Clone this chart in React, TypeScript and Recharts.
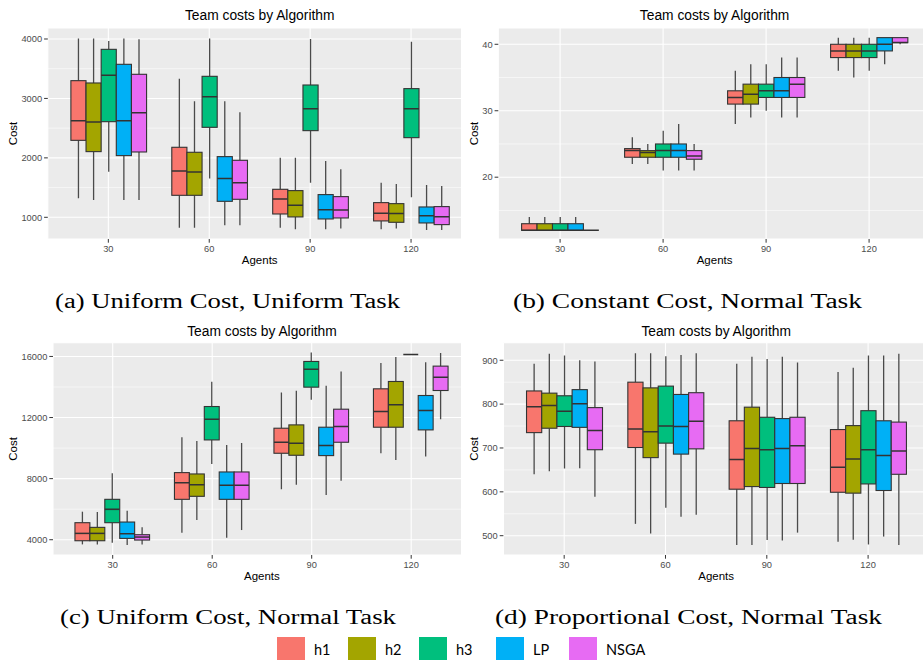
import React from 'react';
import { BarChart, Bar, XAxis, YAxis, CartesianGrid } from 'recharts';

// ---------- data ----------
const agents = ['30', '60', '90', '120'];
const algorithms = ['h1', 'h2', 'h3', 'LP', 'NSGA'];
const colors = ['#F8766D', '#A3A500', '#00BF7D', '#00B0F6', '#E76BF3'];

// five-number summaries [min, q1, median, q3, max] per agents value
// (a) Uniform Cost, Uniform Task
const aH1 = [[1320, 2295, 2626, 3299, 4010], [826, 1370, 1780, 2178, 3333], [826, 1056, 1309, 1471, 2004], [798, 939, 1067, 1247, 1583]];
const aH2 = [[1292, 2105, 2604, 3260, 4010], [826, 1370, 1763, 2094, 2951], [798, 1006, 1202, 1449, 2004], [810, 916, 1062, 1230, 1561]];
const aH3 = [[1768, 2609, 3389, 3826, 3966], [1651, 2514, 3030, 3372, 4010], [1583, 2458, 2828, 3226, 4000], [1337, 2340, 2828, 3165, 3955]];
const aLP = [[1292, 2038, 2626, 3574, 4010], [866, 1269, 1651, 2021, 2951], [798, 972, 1129, 1382, 1948], [787, 905, 1028, 1174, 1544]];
const aNSGA = [[1292, 2099, 2761, 3406, 3994], [866, 1303, 1583, 1959, 2766], [810, 989, 1124, 1348, 1808], [787, 877, 1011, 1180, 1527]];

// (b) Constant Cost, Normal Task
const bH1 = [[12, 12, 12, 13, 14], [22, 23, 24, 24.3, 26], [28, 31, 32, 33, 36], [36, 38, 39, 40, 41]];
const bH2 = [[12, 12, 12, 13, 14], [22, 23, 23.7, 24, 25], [29, 31, 32.5, 34, 37], [35, 38, 39, 40, 41]];
const bH3 = [[12, 12, 12, 13, 14], [21, 23, 24, 25, 27], [30, 32, 33, 34, 37], [36, 38, 39, 40, 41]];
const bLP = [[12, 12, 12, 13, 14], [21, 23, 24, 25, 28], [29, 32, 33, 35, 38], [37, 39, 40, 41, 41]];
const bNSGA = [[12, 12, 12, 12, 12], [21, 22.7, 23.2, 24, 25], [29, 32, 34, 35, 38], [40, 40.25, 40.25, 41, 41]];

// (c) Uniform Cost, Normal Task
const cH1 = [[3694, 3934, 4415, 5115, 5836], [4459, 6645, 7738, 8394, 10710], [7300, 9661, 10382, 11301, 13639], [9661, 11366, 12393, 13880, 15563]];
const cH2 = [[3694, 3934, 4415, 4809, 5814], [5290, 6842, 7607, 8306, 10470], [7607, 9530, 10317, 11519, 13749], [9224, 11366, 12831, 14361, 15956]];
const cH3 = [[3803, 5115, 5989, 6645, 8350], [8962, 10535, 11891, 12721, 14339], [13158, 13989, 15169, 15672, 16262], [16131, 16131, 16131, 16131, 16131]];
const cLP = [[3650, 4087, 4393, 5158, 5902], [4131, 6645, 7563, 8437, 10208], [6929, 9508, 10164, 11366, 14077], [9443, 11191, 12459, 13443, 15628]];
const cNSGA = [[3694, 3978, 4175, 4328, 4809], [4634, 6645, 7563, 8437, 10339], [7869, 10382, 11410, 12546, 15016], [11891, 13770, 14645, 15366, 16219]];

// (d) Proportional Cost, Normal Task
const dH1 = [[640, 735, 794, 830, 892], [527, 701, 743, 850, 916], [479, 606, 674, 762, 892], [486, 599, 656, 742, 873]];
const dH2 = [[647, 745, 797, 825, 915], [505, 678, 737, 837, 916], [479, 612, 699, 793, 908], [491, 597, 675, 751, 883]];
const dH3 = [[653, 749, 784, 819, 911], [564, 711, 750, 841, 909], [490, 610, 696, 770, 903], [480, 618, 696, 785, 911]];
const dLP = [[654, 747, 801, 833, 900], [543, 686, 749, 822, 912], [489, 619, 699, 767, 908], [498, 603, 683, 762, 911]];
const dNSGA = [[589, 696, 740, 792, 897], [548, 698, 761, 826, 916], [507, 619, 705, 770, 895], [479, 640, 693, 759, 915]];

// axis ticks
const aTicks = [1000, 2000, 3000, 4000];
const aMinor = [1500, 2500, 3500];
const bTicks = [20, 30, 40];
const bMinor = [15, 25, 35];
const cTicks = [4000, 8000, 12000, 16000];
const cMinor = [6000, 10000, 14000];
const dTicks = [500, 600, 700, 800, 900];
const dMinor = [550, 650, 750, 850];

const chartTitle = 'Team costs by Algorithm';
const captions = ['(a) Uniform Cost, Uniform Task', '(b) Constant Cost, Normal Task', '(c) Uniform Cost, Normal Task', '(d) Proportional Cost, Normal Task'];

// ---------- helpers ----------
const SANS = '"Liberation Sans", Arial, sans-serif';

function makeRows(series: number[][][]) {
  return agents.map((a, i) => {
    const r: any = { agents: a };
    algorithms.forEach((k, j) => {
      r[k] = series[j][i];
    });
    return r;
  });
}

const BoxShape = (props: any) => {
  const { x, y, width, height, stats, color } = props;
  if (!stats || x == null || y == null) return null;
  const [mn, q1, md, q3, mx] = stats;
  const span = mx - mn;
  const h = height || 0;
  const py = (v: number) => (span === 0 ? y : y + (h * (mx - v)) / span);
  const cx = x + width / 2;
  const top = py(q3);
  const bot = py(q1);
  return (
    <g>
      {mx > q3 && <line x1={cx} x2={cx} y1={py(mx)} y2={top} stroke="#4a4a4a" strokeWidth={1.3} />}
      {q1 > mn && <line x1={cx} x2={cx} y1={bot} y2={py(mn)} stroke="#4a4a4a" strokeWidth={1.3} />}
      <rect x={x} y={top} width={width} height={Math.max(bot - top, 0)} fill={color} stroke="#333333" strokeWidth={1.1} />
      <line x1={x} x2={x + width} y1={py(md)} y2={py(md)} stroke="#333333" strokeWidth={1.5} />
    </g>
  );
};

const YTitle = (props: any) => {
  const vb = props.viewBox || { x: 0, y: 0, width: 0, height: 0 };
  const tx = vb.x + 13.5;
  const ty = vb.y + vb.height / 2;
  return (
    <text x={tx} y={ty} transform={`rotate(-90 ${tx} ${ty})`} textAnchor="middle" dominantBaseline="central" fontFamily={SANS} fontSize={11.5} fill="#000">
      Cost
    </text>
  );
};

const XTitle = (props: any) => {
  const vb = props.viewBox || { x: 0, y: 0, width: 0, height: 0 };
  return (
    <text x={vb.x + vb.width / 2} y={vb.y + 21.5} textAnchor="middle" dominantBaseline="central" fontFamily={SANS} fontSize={11.5} fill="#000">
      Agents
    </text>
  );
};

type PanelProps = {
  left: number;
  top: number;
  clipWidth: number;
  plotLeft: number;
  plotRight: number;
  plotTop: number;
  plotBottom: number;
  titleY: number;
  domain: [number, number];
  ticks: number[];
  minor: number[];
  rows: any[];
};

function Panel(p: PanelProps) {
  const unit = (p.plotRight - p.plotLeft) / 4.2;
  const yAxisW = p.plotLeft - p.left;
  const chartW = p.plotRight - p.left;
  const mTop = p.plotTop - p.top;
  const xAxisH = 40;
  const chartH = p.plotBottom - p.top + xAxisH;
  return (
    <div style={{ position: 'absolute', left: p.left, top: p.top, width: p.clipWidth, height: chartH, overflow: 'hidden' }}>
      <div
        style={{
          position: 'absolute',
          left: yAxisW,
          width: p.plotRight - p.plotLeft,
          top: p.titleY - p.top - 9,
          height: 18,
          lineHeight: '18px',
          textAlign: 'center',
          fontFamily: SANS,
          fontSize: 13.8,
          color: '#000',
          whiteSpace: 'nowrap',
        }}
      >
        {chartTitle}
      </div>
      <BarChart width={chartW} height={chartH} data={p.rows} margin={{ top: mTop, right: 0, bottom: 0, left: 0 }} barGap={0}>
        <CartesianGrid fill="#EBEBEB" stroke="#FFFFFF" strokeWidth={0.55} horizontalValues={p.minor} vertical={false} />
        <CartesianGrid stroke="#FFFFFF" strokeWidth={1.1} />
        <XAxis
          dataKey="agents"
          padding={{ left: unit * 0.1, right: unit * 0.1 }}
          axisLine={false}
          tickLine={{ stroke: '#333333' }}
          tickSize={3.7}
          tickMargin={2.5}
          tick={{ fill: '#4D4D4D', fontSize: 9.3, fontFamily: SANS }}
          height={xAxisH}
          interval={0}
          label={<XTitle />}
        />
        <YAxis
          type="number"
          domain={p.domain}
          ticks={p.ticks}
          allowDataOverflow
          axisLine={false}
          tickLine={{ stroke: '#333333' }}
          tickSize={3.7}
          tickMargin={2}
          tick={{ fill: '#4D4D4D', fontSize: 9.3, fontFamily: SANS }}
          width={yAxisW}
          interval={0}
          label={<YTitle />}
        />
        {algorithms.map((k, j) => (
          <Bar
            key={k}
            dataKey={(r: any) => [r[k][0], r[k][4]]}
            fill={colors[j]}
            barSize={unit * 0.15}
            isAnimationActive={false}
            shape={(sp: any) => <BoxShape {...sp} stats={sp.payload ? sp.payload[k] : null} color={colors[j]} />}
          />
        ))}
      </BarChart>
    </div>
  );
}

const rowsA = makeRows([aH1, aH2, aH3, aLP, aNSGA]);
const rowsB = makeRows([bH1, bH2, bH3, bLP, bNSGA]);
const rowsC = makeRows([cH1, cH2, cH3, cLP, cNSGA]);
const rowsD = makeRows([dH1, dH2, dH3, dLP, dNSGA]);

const captionLayout = [
  { x: 55, y: 308, w: 345 },
  { x: 513, y: 308, w: 349 },
  { x: 60, y: 624, w: 336 },
  { x: 495, y: 624, w: 387 },
];
const legendX = [277, 348, 419, 496, 569];

export default function App() {
  return (
    <div style={{ position: 'absolute', left: 0, top: 0, width: 923, height: 660, background: '#FFFFFF', overflow: 'hidden' }}>
      <Panel left={0} top={0} clipWidth={461} plotLeft={47.8} plotRight={471.6} plotTop={28} plotBottom={239} titleY={16} domain={[635, 4185]} ticks={aTicks} minor={aMinor} rows={rowsA} />
      <Panel left={461} top={0} clipWidth={462} plotLeft={498.3} plotRight={930.9} plotTop={28} plotBottom={239} titleY={16} domain={[10.7, 42.45]} ticks={bTicks} minor={bMinor} rows={rowsB} />
      <Panel left={0} top={320} clipWidth={461} plotLeft={53} plotRight={470.9} plotTop={342.7} plotBottom={555} titleY={331.7} domain={[3000, 16900]} ticks={cTicks} minor={cMinor} rows={rowsC} />
      <Panel left={461} top={320} clipWidth={462} plotLeft={503.4} plotRight={928.9} plotTop={342.7} plotBottom={555} titleY={331.7} domain={[456, 940]} ticks={dTicks} minor={dMinor} rows={rowsD} />
      <svg width={923} height={660} style={{ position: 'absolute', left: 0, top: 0, pointerEvents: 'none' }}>
        {captions.map((c, i) => (
          <text
            key={c}
            x={captionLayout[i].x}
            y={captionLayout[i].y}
            textLength={captionLayout[i].w}
            lengthAdjust="spacingAndGlyphs"
            fontFamily='"Liberation Serif", "DejaVu Serif", serif'
            fontSize={20.5}
            fill="#000"
          >
            {c}
          </text>
        ))}
        {algorithms.map((k, j) => (
          <g key={k}>
            <rect x={legendX[j]} y={637} width={28} height={23} fill={colors[j]} />
            <text x={legendX[j] + 37} y={655} fontFamily='Lato, "Noto Sans", sans-serif' fontSize={14.5} fill="#000">
              {k}
            </text>
          </g>
        ))}
      </svg>
    </div>
  );
}
